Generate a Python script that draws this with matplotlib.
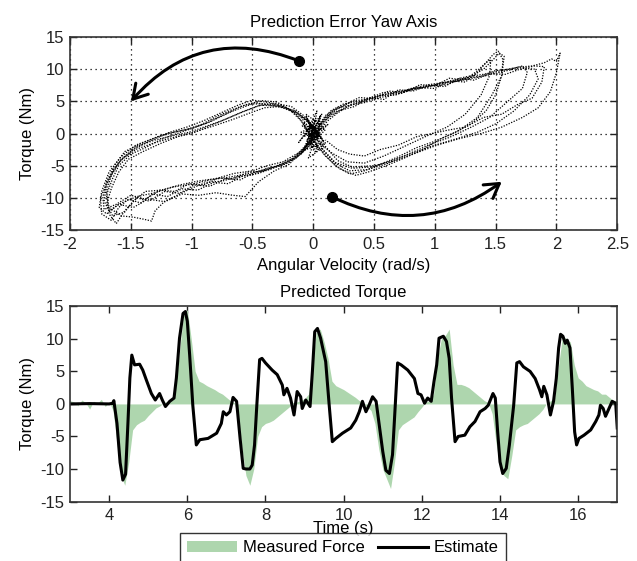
import matplotlib
matplotlib.use("Agg")
import matplotlib.pyplot as plt
from matplotlib.patches import FancyArrowPatch, Patch
from matplotlib.lines import Line2D
import numpy as np

plt.rcParams['font.family'] = ['Liberation Sans', 'DejaVu Sans']
plt.rcParams['font.size'] = 12

GREEN = '#aed6ae'

# ---- top panel: torque vs angular velocity, one loop per cycle ----
loop1 = [(0.02,0.5),(-0.08,2.8),(-0.18,4.2),(-0.32,4.7),(-0.45,4.3),(-0.6,3.2),(-0.75,2.0),(-0.9,1.0),(-1.02,0.2),(-1.15,-0.3),
         (-1.3,-1.0),(-1.45,-2.0),(-1.55,-3.5),(-1.64,-5.5),(-1.7,-8.0),(-1.72,-10.5),(-1.68,-12.0),(-1.58,-10.8),(-1.45,-9.8),(-1.3,-9.2),
         (-1.15,-8.3),(-1.0,-7.9),(-0.85,-7.2),(-0.7,-6.8),(-0.55,-6.3),(-0.4,-5.6),(-0.25,-4.8),(-0.12,-3.5),(-0.03,-1.5),(0.05,1.2),
         (0.15,3.0),(0.28,4.2),(0.42,5.2),(0.58,6.0),(0.75,6.6),(0.92,7.3),(1.08,7.8),(1.25,8.4),(1.42,9.0),(1.55,9.6),
         (1.7,10.2),(1.82,10.0),(1.85,8.5),(1.78,6.0),(1.65,3.5),(1.5,1.5),(1.35,0.2),(1.18,-0.8),(1.0,-1.8),(0.82,-3.0),
         (0.65,-4.2),(0.48,-5.2),(0.32,-5.4),(0.18,-4.5),(0.08,-2.5),(0.02,-0.5)]
loop2 = [(-0.02,-0.5),(-0.1,2.0),(-0.2,3.8),(-0.3,4.9),(-0.42,5.1),(-0.55,4.5),(-0.68,3.6),(-0.8,2.6),(-0.92,1.4),(-1.05,0.6),
         (-1.2,0.0),(-1.35,-1.2),(-1.48,-2.5),(-1.6,-4.5),(-1.68,-7.0),(-1.75,-10.0),(-1.74,-12.5),(-1.66,-13.5),(-1.6,-11.5),(-1.52,-10.2),
         (-1.42,-10.8),(-1.32,-9.4),(-1.2,-9.8),(-1.08,-8.6),(-0.95,-8.8),(-0.82,-7.6),(-0.7,-7.8),(-0.58,-6.6),(-0.45,-6.2),(-0.32,-5.3),
         (-0.2,-4.5),(-0.08,-2.5),(0.02,0.5),(0.1,2.5),(0.2,3.8),(0.32,5.0),(0.45,5.4),(0.58,6.4),(0.72,6.2),(0.85,7.2),
         (1.0,7.0),(1.12,8.2),(1.25,8.0),(1.35,9.5),(1.42,11.0),(1.48,12.3),(1.52,12.8),(1.56,11.5),(1.55,9.0),(1.5,6.0),
         (1.42,3.5),(1.3,1.5),(1.15,0.0),(1.0,-1.2),(0.85,-2.2),(0.7,-3.6),(0.55,-4.8),(0.42,-5.8),(0.3,-6.3),(0.18,-5.0),
         (0.08,-3.0),(0.0,-1.0)]
loop3 = [(0.05,0.0),(-0.05,2.0),(-0.15,3.5),(-0.28,4.2),(-0.4,4.0),(-0.52,3.2),(-0.66,2.2),(-0.8,1.3),(-0.95,0.4),(-1.1,-0.4),
         (-1.25,-1.5),(-1.4,-2.8),(-1.52,-4.0),(-1.6,-6.0),(-1.66,-8.5),(-1.7,-11.0),(-1.65,-12.8),(-1.55,-12.2),(-1.48,-10.5),(-1.38,-9.0),
         (-1.25,-8.8),(-1.1,-8.0),(-0.95,-7.4),(-0.8,-7.0),(-0.65,-6.2),(-0.5,-5.8),(-0.38,-5.0),(-0.25,-4.4),(-0.12,-3.0),(-0.02,-1.0),
         (0.06,1.5),(0.14,3.5),(0.25,4.6),(0.38,5.0),(0.52,5.8),(0.66,6.4),(0.8,6.9),(0.95,7.6),(1.1,8.0),(1.25,8.8),
         (1.4,9.2),(1.55,9.8),(1.68,10.3),(1.8,10.5),(1.9,11.0),(1.96,11.6),(2.0,11.2),(2.03,12.5),(2.0,9.5),(1.95,6.5),
         (1.85,4.0),(1.72,2.5),(1.55,1.0),(1.38,0.0),(1.2,-0.8),(1.02,-1.8),(0.85,-3.0),(0.68,-4.2),(0.5,-5.0),(0.32,-5.2),
         (0.2,-4.2),(0.1,-2.0),(0.05,0.0)]
loop4 = [(0.0,1.0),(-0.12,3.0),(-0.25,4.3),(-0.38,4.6),(-0.5,4.6),(-0.62,3.8),(-0.75,2.8),(-0.88,1.6),(-1.0,0.8),(-1.12,0.3),
         (-1.28,-0.5),(-1.42,-1.6),(-1.55,-2.8),(-1.63,-4.8),(-1.7,-7.5),(-1.73,-10.0),(-1.72,-11.8),(-1.62,-11.0),(-1.5,-9.6),(-1.38,-10.2),
         (-1.26,-8.8),(-1.14,-9.0),(-1.02,-7.8),(-0.9,-8.0),(-0.78,-6.9),(-0.66,-7.1),(-0.54,-6.0),(-0.42,-5.9),(-0.3,-5.0),(-0.18,-4.0),
         (-0.06,-2.0),(0.04,0.5),(0.12,2.4),(0.22,3.6),(0.34,4.2),(0.46,5.6),(0.58,5.3),(0.7,6.8),(0.82,6.6),(0.95,7.5),
         (1.08,7.3),(1.2,8.6),(1.32,8.3),(1.45,9.3),(1.58,9.2),(1.7,10.0),(1.82,10.5),(1.9,10.4),(1.88,8.0),(1.8,5.5),
         (1.68,4.5),(1.55,3.0),(1.4,2.5),(1.25,1.0),(1.1,0.5),(0.98,0.0),(0.85,-0.5),(0.7,-1.8),(0.55,-2.5),(0.42,-3.5),
         (0.3,-3.2),(0.2,-2.5),(0.1,-1.0)]
loop5 = [(0.0,-1.0),(-0.08,1.5),(-0.15,3.2),(-0.25,4.0),(-0.35,4.4),(-0.48,4.8),(-0.6,4.2),(-0.72,3.0),(-0.85,1.8),(-0.98,0.9),
         (-1.12,0.0),(-1.25,-0.9),(-1.38,-2.2),(-1.5,-3.2),(-1.6,-5.0),(-1.65,-7.0),(-1.7,-9.5),(-1.68,-12.5),(-1.62,-14.0),(-1.55,-12.0),
         (-1.45,-10.0),(-1.35,-10.5),(-1.22,-9.0),(-1.1,-9.3),(-0.98,-8.0),(-0.85,-8.2),(-0.72,-7.0),(-0.6,-7.2),(-0.48,-6.0),(-0.36,-5.6),
         (-0.24,-4.6),(-0.14,-3.6),(-0.04,-1.8),(0.03,0.8),(0.1,2.8),(0.2,4.0),(0.3,4.4),(0.42,5.0),(0.55,5.9),(0.68,6.0),
         (0.8,7.0),(0.92,7.1),(1.05,7.9),(1.18,8.1),(1.3,8.9),(1.4,10.0),(1.48,11.5),(1.53,12.5),(1.57,12.0),(1.55,9.0),
         (1.47,6.0),(1.35,2.5),(1.2,0.5),(1.05,-0.8),(0.9,-2.5),(0.75,-3.8),(0.6,-5.0),(0.45,-6.0),(0.35,-6.5),(0.22,-5.5),
         (0.1,-3.5),(0.02,-1.5)]
loop6 = [(0.03,0.0),(-0.06,2.2),(-0.16,3.6),(-0.3,4.3),(-0.44,4.4),(-0.58,3.4),(-0.7,2.4),(-0.85,1.2),(-1.0,0.0),(-1.15,-0.6),
         (-1.3,-1.4),(-1.45,-2.4),(-1.58,-4.0),(-1.66,-6.5),(-1.7,-9.0),(-1.68,-11.5),(-1.58,-12.8),(-1.48,-13.0),(-1.4,-13.3),(-1.33,-13.6),
         (-1.3,-12.0),(-1.22,-10.5),(-1.12,-9.6),(-1.0,-8.5),(-0.88,-7.6),(-0.75,-7.4),(-0.62,-6.7),(-0.5,-6.4),(-0.38,-5.4),(-0.26,-5.0),
         (-0.14,-3.8),(-0.04,-2.0),(0.04,0.2),(0.12,2.0),(0.2,3.2),(0.3,4.4),(0.42,4.8),(0.55,5.6),(0.68,6.1),(0.82,6.8),
         (0.96,7.4),(1.1,7.6),(1.24,8.6),(1.38,8.9),(1.5,9.8),(1.62,10.0),(1.72,10.5),(1.76,9.5),(1.72,7.0),(1.6,5.0),
         (1.45,2.5),(1.3,1.0),(1.12,-0.6),(0.95,-1.8),(0.78,-3.2),(0.62,-4.6),(0.45,-5.6),(0.3,-5.8),(0.18,-4.6),(0.08,-2.6),
         (0.03,0.0)]
loop7 = [(0.0,0.0),(-0.1,2.5),(-0.22,4.0),(-0.36,4.8),(-0.5,5.2),(-0.62,4.4),(-0.76,3.2),(-0.9,2.0),(-1.04,1.0),(-1.18,0.2),
         (-1.32,-0.8),(-1.46,-1.8),(-1.58,-3.6),(-1.68,-6.0),(-1.74,-9.0),(-1.76,-11.5),(-1.7,-12.5),(-1.6,-11.0),(-1.48,-11.5),(-1.36,-10.2),
         (-1.22,-10.6),(-1.08,-9.4),(-0.94,-9.6),(-0.8,-9.2),(-0.66,-9.6),(-0.56,-9.8),(-0.45,-7.5),(-0.32,-5.8),(-0.2,-4.8),(-0.1,-3.0),
         (0.0,-0.5),(0.08,1.8),(0.16,3.5),(0.26,4.5),(0.38,5.6),(0.5,5.4),(0.62,6.6),(0.75,6.4),(0.88,7.6),(1.0,7.4),
         (1.12,8.6),(1.24,8.3),(1.34,9.6),(1.42,11.0),(1.46,11.5),(1.45,9.0),(1.38,6.0),(1.25,3.0),(1.1,1.0),(0.92,-0.5),
         (0.75,-2.0),(0.58,-3.5),(0.42,-4.6),(0.28,-4.4),(0.15,-3.0),(0.05,-1.5)]
centre = [(0.05,2.0),(-0.05,-1.0),(0.08,1.0),(-0.06,3.0),(0.04,-2.5),(-0.04,0.5),(0.07,-0.8),(-0.08,1.8),(0.02,-3.0),(0.06,2.8),
          (-0.03,-1.8),(0.05,0.2),(-0.07,-0.4),(0.03,3.5),(-0.02,-2.2),(0.08,-1.2),(-0.05,2.2),(0.0,0.0),(-0.1,-3.2),(0.1,0.6),
          (-0.09,1.2),(0.09,-2.0),(-0.04,-3.8),(0.06,1.6),(-0.1,0.2),(0.04,-0.6),(-0.06,2.6),(0.1,-1.5),(-0.08,-2.6),(0.02,2.4),
          (-0.12,-1.4),(0.07,3.0),(-0.02,-0.2),(0.12,1.4),(-0.06,-2.0),(0.0,1.0)]
loops = [loop1, loop2, loop3, loop4, loop5, loop6, loop7, centre]

# direction arrows (start dot -> arrow head)
arrow_top = ((-0.12, 11.3), (-1.5, 5.0))
arrow_bot = ((0.15, -9.8), (1.55, -7.5))

# ---- bottom panel: estimated torque ----
est_t = [3.0, 3.5, 4.0, 4.09, 4.12, 4.2, 4.28, 4.35, 4.42, 4.48,
         4.53, 4.58, 4.65, 4.78, 4.86, 4.95, 5.08, 5.18, 5.29, 5.36,
         5.44, 5.55, 5.66, 5.72, 5.8, 5.89, 5.95, 6.0, 6.06, 6.14,
         6.23, 6.32, 6.53, 6.75, 6.87, 6.92, 7.0, 7.09, 7.17, 7.26,
         7.35, 7.43, 7.5, 7.6, 7.66, 7.72, 7.78, 7.85, 7.91, 8.0,
         8.17, 8.3, 8.43, 8.47, 8.55, 8.64, 8.73, 8.81, 8.9, 8.94,
         9.03, 9.14, 9.2, 9.26, 9.33, 9.41, 9.54, 9.63, 9.71, 9.8,
         9.97, 10.18, 10.31, 10.4, 10.48, 10.57, 10.65, 10.74, 10.83, 10.91,
         11.0, 11.08, 11.17, 11.25, 11.34, 11.38, 11.47, 11.64, 11.81, 11.9,
         11.98, 12.07, 12.15, 12.24, 12.31, 12.38, 12.44, 12.55, 12.63, 12.7,
         12.76, 12.85, 12.93, 13.1, 13.23, 13.36, 13.49, 13.62, 13.7, 13.82,
         13.88, 13.94, 14.0, 14.07, 14.16, 14.24, 14.35, 14.43, 14.5, 14.6,
         14.77, 14.9, 15.01, 15.07, 15.12, 15.2, 15.29, 15.37, 15.44, 15.5,
         15.55, 15.61, 15.67, 15.72, 15.79, 15.85, 15.91, 15.96, 16.02, 16.15,
         16.32, 16.45, 16.53, 16.57, 16.64, 16.7, 16.79, 16.87, 16.96, 17.0]
est_v = [0.0, 0.05, 0.0, 0.1, 0.5, -3.0, -9.0, -11.7, -10.8, -3.0,
         4.0, 7.5, 6.0, 6.1, 5.2, 3.7, 1.6, 0.6, 1.6, 0.6,
         -0.4, 0.4, 0.9, 4.0, 10.1, 13.9, 14.2, 12.7, 7.5, -0.2,
         -6.3, -5.5, -5.3, -4.5, -3.0, -1.2, -1.7, -1.2, 1.0, 0.4,
         -5.3, -9.9, -10.0, -10.0, -9.4, -6.3, 0.0, 6.8, 7.0, 6.3,
         5.2, 4.5, 2.9, 1.4, 2.4, 0.9, -1.7, 1.9, 1.1, -0.7,
         0.6, -0.4, 5.0, 11.1, 11.6, 10.1, 6.5, -0.2, -5.8, -5.3,
         -4.5, -3.7, -2.5, -1.2, 0.4, -1.2, -0.2, 1.1, 0.4, -3.2,
         -7.3, -10.2, -10.7, -7.8, 1.9, 6.3, 6.0, 5.2, 3.9, 1.6,
         1.4, 0.1, 0.9, 0.4, 3.4, 6.0, 10.1, 10.4, 9.6, 7.0,
         0.9, -5.8, -5.0, -4.8, -3.5, -2.7, -1.2, -0.7, -0.2, 1.6,
         0.9, -4.3, -8.9, -10.7, -9.9, -6.3, -0.2, 6.3, 6.5, 5.7,
         5.0, 3.9, 2.2, 1.1, 2.7, 1.4, -1.7, 0.4, 3.9, 8.6,
         10.7, 10.4, 9.3, 9.8, 8.6, 2.4, -4.3, -6.3, -5.3, -4.8,
         -4.0, -2.7, -1.7, -0.2, -0.7, -1.9, -0.7, 0.4, 0.1, -3.7]

# measured force, sampled every 0.1 s from 3.0 to 17.0
meas_t = np.round(np.arange(3.0, 17.05, 0.1), 2)
meas_v = [0.5, 0.3, -0.3, 0.6, 0.2, -0.8, 0.4, 0.1, 0.7, -0.4,
          0.3, -1.0, -6.0, -11.0, -12.5, -9.0, -4.0, -3.2, -2.8, -2.5,
          -1.8, -1.2, -0.6, -0.3, 0.2, 0.4, 0.8, 2.5, 8.0, 13.5,
          14.5, 10.0, 5.0, 3.5, 3.2, 2.8, 2.5, 2.2, 1.8, 1.5,
          1.0, 0.5, 0.2, -2.0, -7.0, -11.0, -12.5, -10.0, -5.0, -3.5,
          -3.0, -2.8, -2.5, -2.0, -1.5, -1.0, -0.5, 0.2, 0.3, 0.5,
          0.8, 1.5, 6.0, 11.0, 11.5, 9.5, 7.0, 3.5, 2.8, 2.5,
          2.2, 1.8, 1.4, 1.0, 0.5, 0.2, -0.5, -1.0, -3.0, -7.0,
          -10.0, -11.5, -13.0, -9.0, -4.0, -3.2, -2.8, -2.4, -2.0, -1.2,
          -0.5, 0.3, 0.5, 1.5, 7.0, 10.0, 10.5, 11.5, 6.0, 3.0,
          3.0, 2.8, 2.5, 2.0, 1.5, 1.0, 0.5, 0.2, -1.5, -6.0,
          -10.0, -11.0, -11.5, -8.0, -4.0, -3.5, -3.2, -3.0, -2.5, -2.0,
          -1.5, -0.8, 0.2, 0.5, 1.0, 6.0, 10.5, 10.0, 9.5, 6.0,
          4.0, 3.5, 2.8, 2.5, 2.2, 2.0, 1.5, 1.5, 1.0, 0.5,
          0.5]

fig = plt.figure(figsize=(6.37, 5.61), dpi=100)
ax1 = fig.add_axes([0.110, 0.590, 0.859, 0.344])
ax2 = fig.add_axes([0.110, 0.106, 0.859, 0.348])

for lp in loops:
    xs = [p[0] for p in lp]
    ys = [p[1] for p in lp]
    ax1.plot(xs, ys, color='k', lw=0.9, linestyle=(0, (1, 1.2)))

for (a, b), rad in [(arrow_top, 0.35), (arrow_bot, 0.3)]:
    ax1.add_patch(FancyArrowPatch(a, b, connectionstyle='arc3,rad=%s' % rad,
                                  arrowstyle='->,head_length=0.5,head_width=0.3',
                                  mutation_scale=20, lw=2.2, color='k', shrinkA=0, shrinkB=0))
    ax1.plot(a[0], a[1], 'o', color='k', ms=7)

ax1.set_xlim(-2, 2.5)
ax1.set_ylim(-15, 15)
ax1.set_xticks(np.arange(-2, 2.51, 0.5))
ax1.set_xticklabels(['-2', '-1.5', '-1', '-0.5', '0', '0.5', '1', '1.5', '2', '2.5'])
ax1.set_yticks([-15, -10, -5, 0, 5, 10, 15])
ax1.set_yticklabels(['-15', '-10', '-5', '0', '5', '10', '15'])
ax1.grid(True, color='k', lw=0.9, linestyle=(0, (1, 3)))
ax1.set_title('Prediction Error Yaw Axis', fontsize=12, pad=7)
ax1.set_xlabel('Angular Velocity (rad/s)')
ax1.set_ylabel('Torque (Nm)')

ax2.fill_between(meas_t, meas_v, 0, color=GREEN, lw=0)
ax2.plot(est_t, est_v, color='k', lw=2.2)
ax2.set_xlim(3, 17)
ax2.set_ylim(-15, 15)
ax2.set_xticks([4, 6, 8, 10, 12, 14, 16])
ax2.set_yticks([-15, -10, -5, 0, 5, 10, 15])
ax2.set_yticklabels(['-15', '-10', '-5', '0', '5', '10', '15'])
ax2.set_title('Predicted Torque', fontsize=12, pad=7)
ax2.set_xlabel('Time (s)', labelpad=-1.5)
ax2.set_ylabel('Torque (Nm)')

for ax in (ax1, ax2):
    ax.tick_params(direction='in', top=True, right=True, length=5, width=1, labelsize=12, pad=4, colors='#222222')
    ax.tick_params(axis='x', pad=5)
    for s in ax.spines.values():
        s.set_linewidth(1.2)
        s.set_color('#333333')
    ax.set_axisbelow(True)

handles = [Patch(facecolor=GREEN, edgecolor='none'), Line2D([], [], color='k', lw=2.2)]
leg = fig.legend(handles, ['Measured Force', 'Estimate'], ncol=2, loc='upper center',
                 bbox_to_anchor=(0.5385, 0.050), borderaxespad=0, frameon=True, fancybox=False, edgecolor='k',
                 handlelength=3.0, handletextpad=0.35, columnspacing=0.8, borderpad=0.45, fontsize=12)
leg.get_frame().set_linewidth(1.0)

fig.savefig('out.png', dpi=100)
